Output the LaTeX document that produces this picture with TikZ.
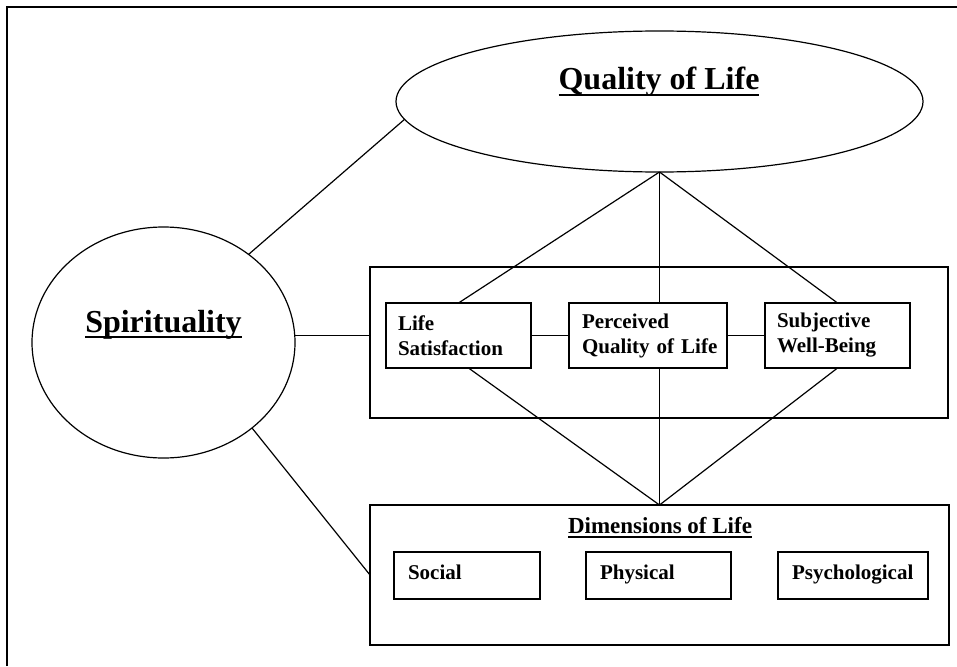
\documentclass[tikz,border=0pt]{standalone}
\usepackage{fontspec}
\setmainfont{Liberation Serif}
\usetikzlibrary{shapes.geometric}
\newcommand\myul[1]{\setbox0\hbox{#1}\rlap{\rule[-0.2em]{\wd0}{0.075em}}\box0}
\begin{document}
\begin{tikzpicture}[x=1pt,y=-1pt,
  box/.style={draw, rectangle, line width=1.4pt, inner sep=0pt, outer sep=0pt},
  lbl/.style={box, font=\fontsize{21}{25}\selectfont\bfseries, align=left, inner xsep=12pt, minimum height=65pt},
  dimbox/.style={box, font=\fontsize{21}{25}\selectfont\bfseries, align=left, inner xsep=14pt, text height=15pt, text depth=8pt, minimum height=47pt},
  ell/.style={draw, ellipse, inner sep=0pt, outer sep=0pt, line width=1.2pt},
  conn/.style={line width=1.2pt},
  frameline/.style={line width=1.5pt},
  bigtitle/.style={font=\fontsize{32}{38}\selectfont\bfseries, anchor=base, inner sep=0pt},
  midtitle/.style={font=\fontsize{23}{27}\selectfont\bfseries, anchor=base, inner sep=0pt}]
\useasboundingbox (0,0) rectangle (957,666);
% outer frame (only left and top edges fall inside the page)
\draw[frameline] (7,666) -- (7,7) -- (957,7);
% ellipses
\node[ell, minimum width=527pt, minimum height=141pt] (qol) at (659.5,101.5) {};
\node[bigtitle] (qoltext) at (659,90) {\myul{Quality of Life}};
\node[ell, minimum width=263pt, minimum height=231pt] (spir) at (163.5,342.5) {};
\node[bigtitle] (spirtext) at (163.5,332) {\myul{Spirituality}};
% middle group
\node[box, minimum width=578pt, minimum height=151pt] (big) at (659,342.5) {};
\node[lbl, text width=121pt] (life) at (458.5,335.5) {Life\\Satisfaction};
\node[lbl, inner xsep=13pt, text width=132pt] (perc) at (648,335.5) {Perceived\\\mbox{Quality of Life}};
\node[lbl, text width=121pt] (subj) at (837.5,335.5) {Subjective\\Well-Being};
% dimensions group
\node[box, minimum width=579pt, minimum height=140pt] (dims) at (659.5,575) {};
\node[midtitle] (dimtext) at (660,533) {\myul{Dimensions of Life}};
\node[dimbox, text width=118pt] (social) at (467,575.5) {Social};
\node[dimbox, text width=117pt] (phys) at (658.5,575.5) {Physical};
\node[dimbox, text width=122pt] (psych) at (853,575.5) {\mbox{Psychological}};
% connectors
\draw[conn] (spir.46) -- (qol.184);
\draw[conn] (spir.316) -- (dims.west);
\draw[conn] (spir.east |- life.center) -- (big.west |- life.center);
\draw[conn] (life.east) -- (perc.west);
\draw[conn] (perc.east) -- (subj.west);
\draw[conn] (qol.south) -- (life.north);
\draw[conn] (qol.south) -- (qol.south |- perc.north);
\draw[conn] (qol.south) -- (subj.north);
\draw[conn] ([xshift=10pt]life.south) -- (dims.north);
\draw[conn] (perc.south -| dims.north) -- (dims.north);
\draw[conn] (subj.south) -- (dims.north);
\end{tikzpicture}
\end{document}
